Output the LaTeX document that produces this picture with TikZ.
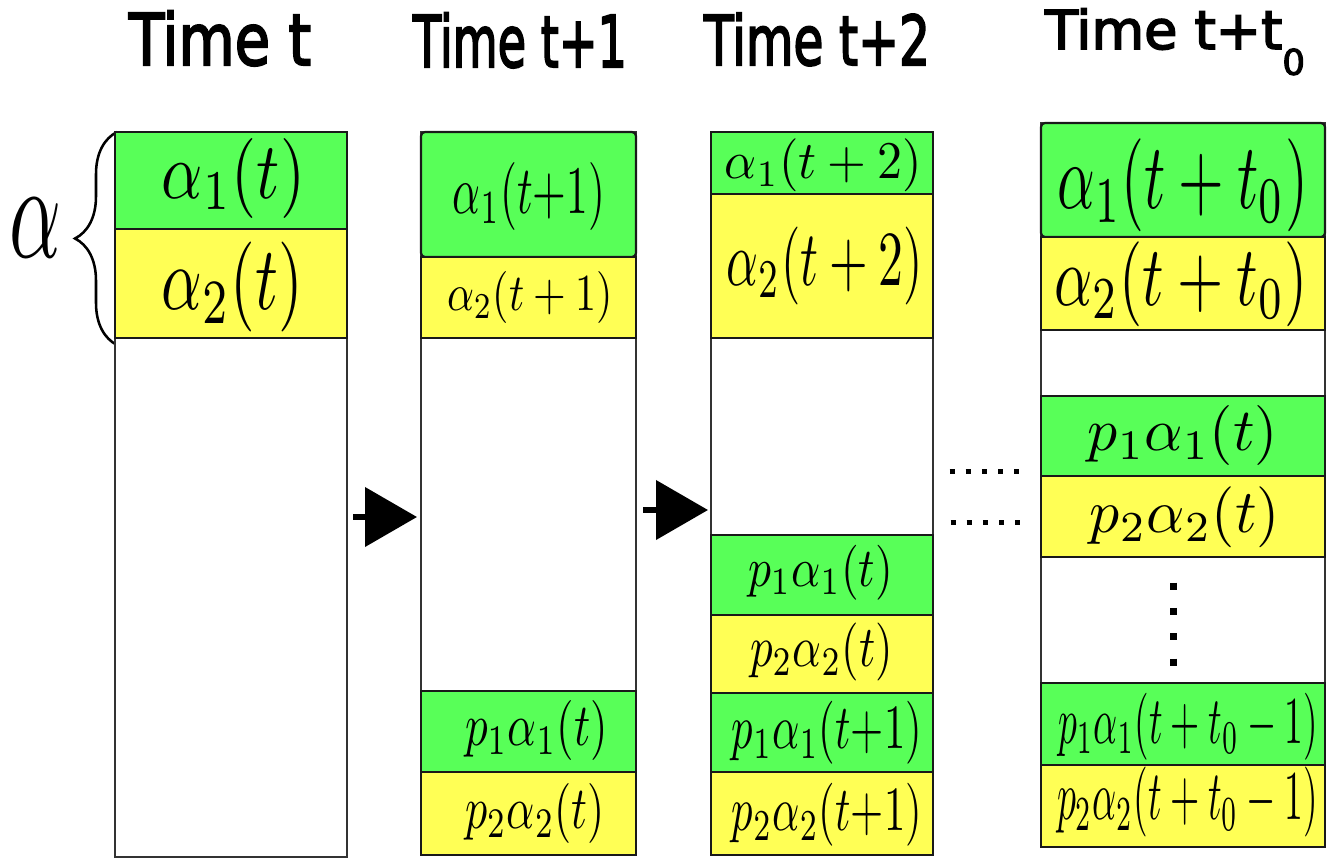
\documentclass[tikz,border=0pt]{standalone}
\usepackage{fontspec}
\usepackage{graphicx}
\usetikzlibrary{arrows.meta,decorations.pathreplacing}
\newfontfamily\tfont[FakeBold=3]{DejaVu Sans}
\newdimen\pxu \pxu=0.75pt
\definecolor{gcol}{RGB}{88,255,88}
\definecolor{ycol}{RGB}{255,255,85}
\definecolor{edge}{RGB}{25,25,25}
\newcommand\ttl[3]{\resizebox*{#1\pxu}{#2\pxu}{\tfont\raisebox{0pt}[\fontcharht\font`T][0pt]{#3}}}
\newcommand\subz{\raisebox{-0.66\fontcharht\font`T}{\scalebox{0.66}{0}}}
\newcommand\mth[3]{\resizebox*{#1\pxu}{#2\pxu}{$#3$}}
\begin{document}
\begin{tikzpicture}[x=0.75pt,y=-0.75pt,
  frame/.style={draw=black!80, line width=1.5pt, fill=white, inner sep=0pt, outer sep=0pt},
  cell/.style 2 args={minimum width=#1*0.75pt, minimum height=#2*0.75pt, inner sep=0pt, outer sep=0pt, line width=1.6pt},
  gcell/.style={fill=gcol, draw=edge},
  ycell/.style={fill=ycol, draw=edge},
  lbl/.style={inner sep=0pt, outer sep=0pt},
  title/.style={inner sep=0pt, outer sep=0pt, anchor=base west},
  arr/.style={line width=4pt, -{Triangle[length=39pt,width=44pt]}},
  hdots/.style={line width=3.75pt, dash pattern=on 3.75pt off 8.4pt},
  vdots/.style={line width=5.25pt, dash pattern=on 5.25pt off 13.75pt}]
\useasboundingbox (0,0) rectangle (1335,860);

% titles
\node[title] (t1) at (129,65) {\ttl{182}{52}{Time t}};
\node[title] (t2) at (413,67) {\ttl{214}{52}{Time t+1}};
\node[title] (t3) at (704,65) {\ttl{226}{50}{Time t+2}};
\node[title] (t4) at (1045,49) {\ttl{260}{39}{Time t+t\subz}};

% brace and alpha
\draw[decorate, decoration={brace, amplitude=31.5pt}, line width=1.9pt] (117,345) -- (117,132);
\node[lbl] (al) at (36,227.5) {\mth{52}{59}{\alpha}};

% column frames
\node[frame, cell={232}{725}] (col1) at (231,494.5) {};
\node[frame, cell={215}{723}] (col2) at (528.5,493.5) {};
\node[frame, cell={222}{723}] (col3) at (822,493.5) {};
\node[frame, cell={284}{724}] (col4) at (1183,485) {};

% column 1
\node[gcell, cell={232}{97}] (c1a) at (231,180.5) {};
\node[ycell, cell={232}{109}] (c1b) at (231,283.5) {};
\node[lbl] (l1a) at (233.5,178) {\mth{143}{80}{\alpha_1(t)}};
\node[lbl] (l1b) at (232.5,287) {\mth{141}{90}{\alpha_2(t)}};

% column 2
\node[gcell, cell={215}{125}, rounded corners=3pt] (c2a) at (528.5,194.5) {};
\node[ycell, cell={215}{81}] (c2b) at (528.5,297.5) {};
\node[gcell, cell={215}{81}] (c2c) at (528.5,731.5) {};
\node[ycell, cell={215}{83}] (c2d) at (528.5,813.5) {};
\node[lbl] (l2a) at (529,196) {\mth{152}{68}{\alpha_1(t{+}1)}};
\node[lbl] (l2b) at (530,297.5) {\mth{166}{52}{\alpha_2(t+1)}};
\node[lbl] (l2c) at (536.5,730) {\mth{143}{60}{p_1\alpha_1(t)}};
\node[lbl] (l2d) at (535,813) {\mth{140}{60}{p_2\alpha_2(t)}};

% column 3
\node[gcell, cell={222}{62}] (c3a) at (822,163) {};
\node[ycell, cell={222}{144}] (c3b) at (822,266) {};
\node[gcell, cell={222}{80}] (c3c) at (822,575) {};
\node[ycell, cell={222}{78}] (c3d) at (822,654) {};
\node[gcell, cell={222}{79}] (c3e) at (822,732.5) {};
\node[ycell, cell={222}{83}] (c3f) at (822,813.5) {};
\node[lbl] (l3a) at (823.5,165) {\mth{197}{53}{\alpha_1(t+2)}};
\node[lbl] (l3b) at (825,266) {\mth{196}{78}{\alpha_2(t+2)}};
\node[lbl] (l3c) at (820.5,572.5) {\mth{145}{55}{p_1\alpha_1(t)}};
\node[lbl] (l3d) at (821.5,652) {\mth{143}{58}{p_2\alpha_2(t)}};
\node[lbl] (l3e) at (827,733) {\mth{190}{63}{p_1\alpha_1(t{+}1)}};
\node[lbl] (l3f) at (827,815) {\mth{190}{63}{p_2\alpha_2(t{+}1)}};

% column 4
\node[gcell, cell={284}{114}, rounded corners=3pt] (c4a) at (1183,180) {};
\node[ycell, cell={284}{93}] (c4b) at (1183,283.5) {};
\node[gcell, cell={284}{80}] (c4c) at (1183,436) {};
\node[ycell, cell={284}{81}] (c4d) at (1183,516.5) {};
\node[gcell, cell={284}{82}] (c4e) at (1183,724) {};
\node[ycell, cell={284}{82}] (c4f) at (1183,806) {};
\node[lbl] (l4a) at (1183,185) {\mth{250}{93}{\alpha_1(t+t_0)}};
\node[lbl] (l4b) at (1181.5,284) {\mth{253}{85}{\alpha_2(t+t_0)}};
\node[lbl] (l4c) at (1183,435) {\mth{190}{60}{p_1\alpha_1(t)}};
\node[lbl] (l4d) at (1185,517.5) {\mth{190}{61}{p_2\alpha_2(t)}};
\node[lbl] (l4e) at (1188,727) {\mth{260}{67}{p_1\alpha_1(t+t_0-1)}};
\node[lbl] (l4f) at (1187.5,802) {\mth{261}{70}{p_2\alpha_2(t+t_0-1)}};

% vertical dots in column 4
\draw[vdots] (1173,582.5) -- (1173,666);

% horizontal dots between columns 3 and 4
\draw[hdots] (949.5,471) -- (1022,471);
\draw[hdots] (950.5,522) -- (1023,522);

% arrows
\coordinate (a1) at (353,517);
\coordinate (a2) at (643,510);
\draw[arr, shorten >=3pt] (a1) -- (a1 -| col2.west);
\draw[arr, shorten >=2.25pt] (a2) -- (a2 -| col3.west);
\end{tikzpicture}
\end{document}
